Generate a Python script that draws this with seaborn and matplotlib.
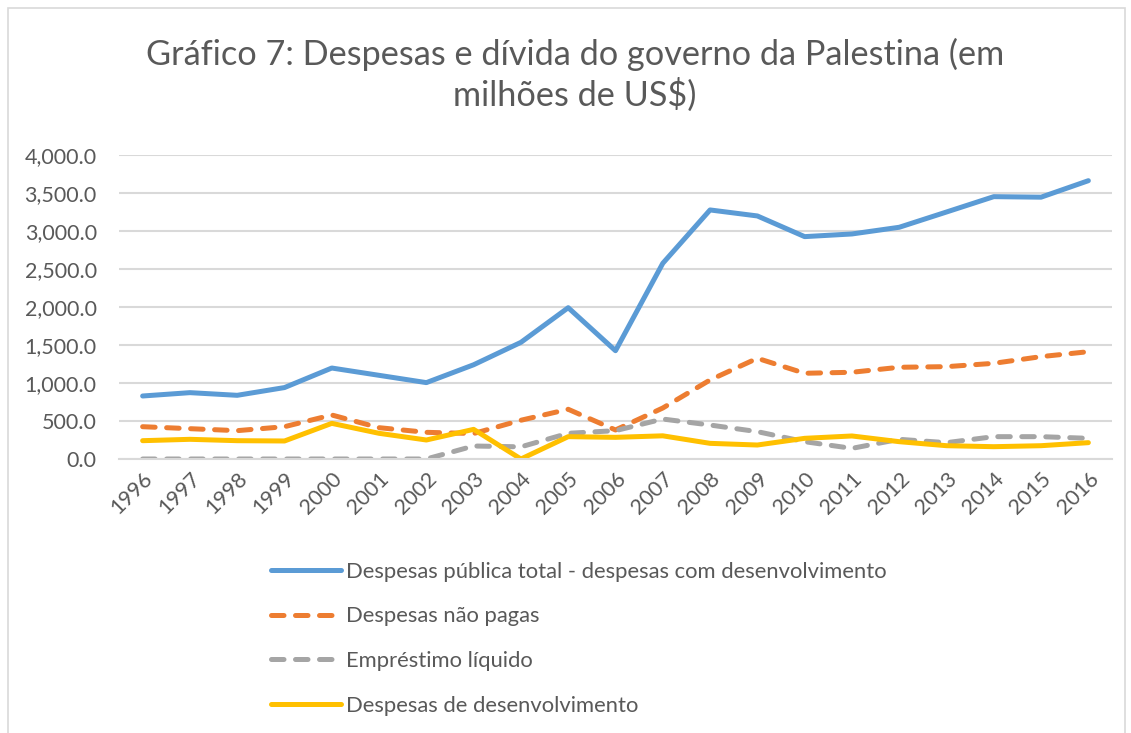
import numpy as np
import pandas as pd
import matplotlib
matplotlib.use("Agg")
import matplotlib.pyplot as plt
from matplotlib.lines import Line2D
from matplotlib.patches import Rectangle
from matplotlib.ticker import FuncFormatter
import seaborn as sns

# Data (millions of US$)
years = list(range(1996, 2017))
despesas_total = [829, 873, 838, 940, 1197, 1101, 1005, 1240, 1535, 1991, 1425, 2575,
                  3277, 3198, 2926, 2961, 3049, 3250, 3452, 3445, 3662]
despesas_nao_pagas = [425, 399, 373, 425, 579, 412, 351, 335, 510, 654, 382, 671,
                      1040, 1325, 1128, 1141, 1207, 1215, 1259, 1347, 1412]
emprestimo_liquido = [0, 0, 0, 0, 0, 0, 0, 171, 160, 338, 373, 526,
                      447, 360, 228, 140, 259, 215, 294, 294, 272]
despesas_desenv = [241, 259, 241, 237, 469, 338, 250, 390, 0, 294, 285, 305,
                   206, 184, 272, 303, 228, 175, 162, 175, 215]

series_names = ["Despesas pública total - despesas com desenvolvimento",
                "Despesas não pagas",
                "Empréstimo líquido",
                "Despesas de desenvolvimento"]
colors = ["#5B9BD5", "#ED7D31", "#A5A5A5", "#FFC000"]
dash_styles = ["", (2.5, 2.3), (2.5, 2.3), ""]

df = pd.DataFrame({
    "ano": years * 4,
    "valor": despesas_total + despesas_nao_pagas + emprestimo_liquido + despesas_desenv,
    "serie": sum([[n] * len(years) for n in series_names], []),
})

sns.set_theme(style="white")
plt.rcParams['font.family'] = ['Lato', 'DejaVu Sans']
text_color = "#595959"
lw = 3.6

fig = plt.figure(figsize=(11.31, 7.33), dpi=100)
ax = fig.add_axes([119 / 1131, 1 - 459 / 733, (1112 - 119) / 1131, (459 - 155) / 733])

# outer chart border
fig.patches.append(Rectangle((8 / 1131, -0.01), (1125 - 8) / 1131, 1 - 8 / 733 + 0.01,
                             transform=fig.transFigure, fill=False,
                             edgecolor="#D9D9D9", linewidth=1.2))

sns.lineplot(data=df, x="ano", y="valor", hue="serie", style="serie",
             palette=dict(zip(series_names, colors)),
             dashes=dict(zip(series_names, dash_styles)),
             linewidth=lw, ax=ax, legend=False)
for ln in ax.get_lines():
    ln.set_solid_capstyle("round")
    ln.set_dash_capstyle("round")
    ln.set_solid_joinstyle("round")

ax.set_xlim(1995.5, 2016.5)
ax.set_ylim(0, 4000)
ax.set_yticks(np.arange(0, 4001, 500))
ax.yaxis.set_major_formatter(FuncFormatter(lambda v, p: f"{v:,.1f}"))
ax.set_xticks(years)
ax.set_xticklabels([str(y) for y in years], rotation=45, ha="right",
                   rotation_mode="anchor")
ax.tick_params(axis="both", length=0, labelsize=15.5, labelcolor=text_color)
ax.tick_params(axis="y", pad=16)
ax.tick_params(axis="x", pad=7)
ax.grid(axis="y", color="#D9D9D9", linewidth=1.5)
ax.set_axisbelow(True)
for s in ["top", "right", "left"]:
    ax.spines[s].set_visible(False)
ax.spines["bottom"].set_color("#D9D9D9")
ax.spines["bottom"].set_linewidth(1.5)
ax.set_xlabel("")
ax.set_ylabel("")

fig.text(575 / 1131, 1 - 38 / 733,
         "Gráfico 7: Despesas e dívida do governo da Palestina (em\nmilhões de US$)",
         ha="center", va="top", fontsize=24.7, color=text_color, linespacing=1.22)

handles = [Line2D([], [], color=c, linewidth=lw, dashes=d if d else (None, None),
                  solid_capstyle="round", dash_capstyle="round")
           for c, d in zip(colors, dash_styles)]
fig.legend(handles, series_names, loc="upper left",
           bbox_to_anchor=(262 / 1131, 1 - 553 / 733), frameon=False,
           fontsize=15.8, labelcolor=text_color, handlelength=3.2,
           handletextpad=0.25, labelspacing=1.12, borderaxespad=0)

fig.savefig("out.png", dpi=100)
